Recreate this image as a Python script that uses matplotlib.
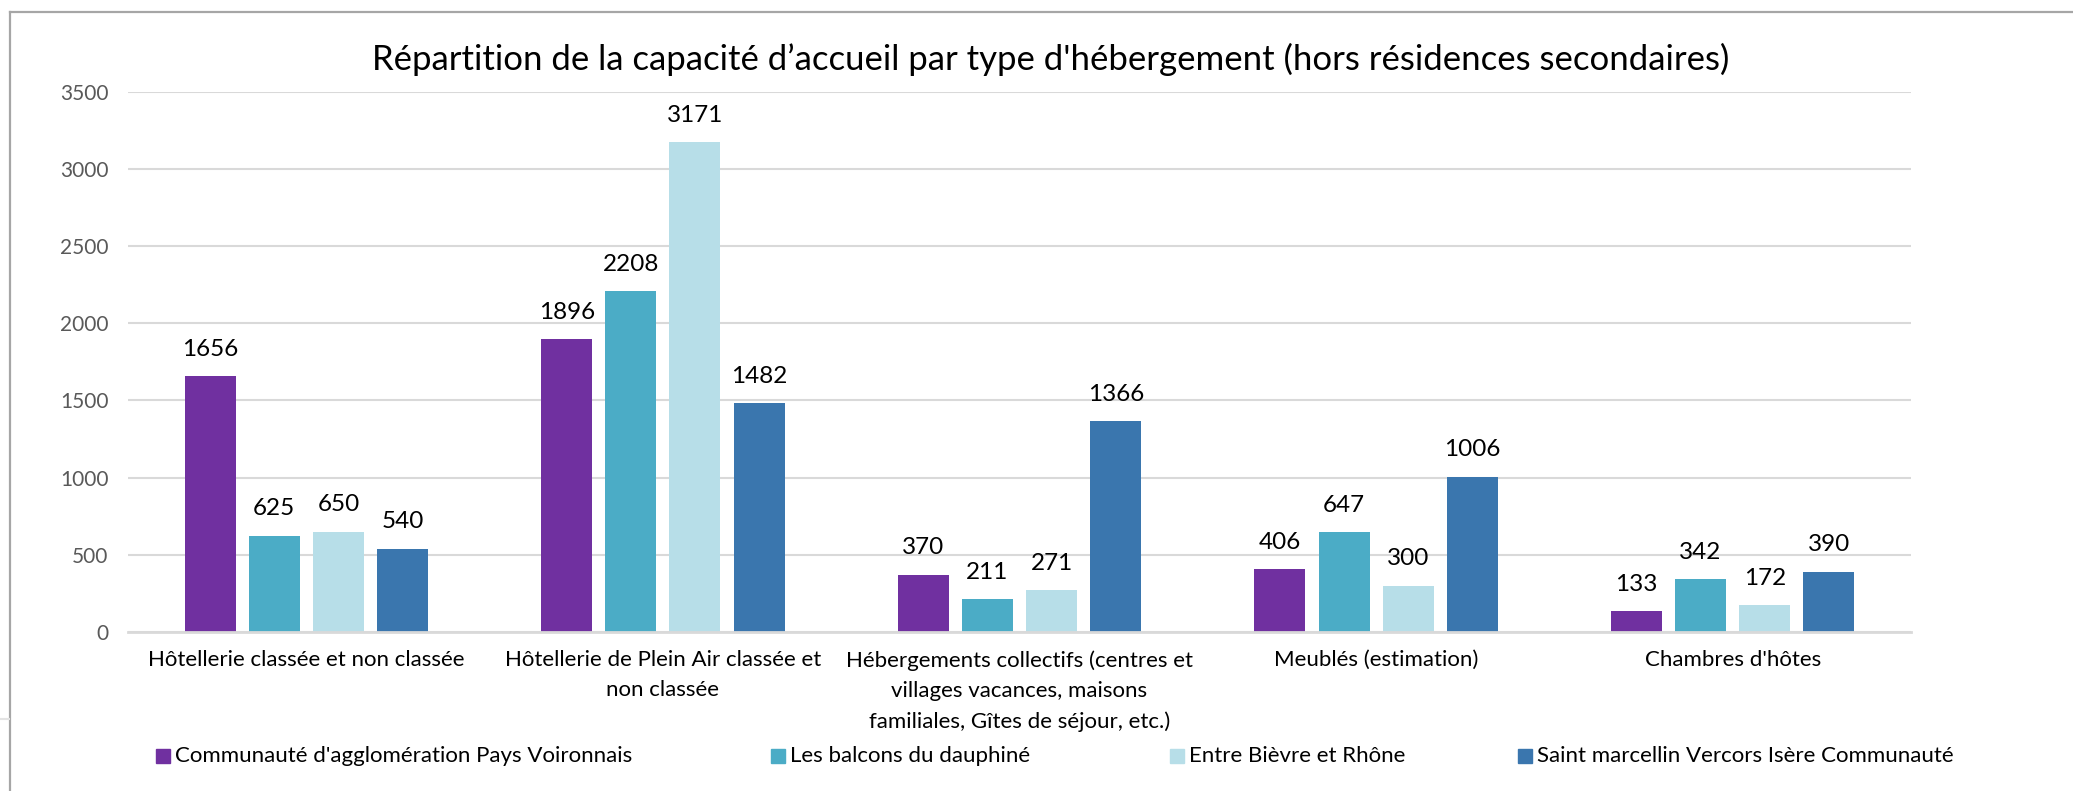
import matplotlib
matplotlib.use("Agg")
import matplotlib.pyplot as plt
import numpy as np
from matplotlib.patches import Rectangle
from matplotlib.lines import Line2D

plt.rcParams['font.family'] = ['Lato', 'DejaVu Sans']

title = "Répartition de la capacité d’accueil par type d'hébergement (hors résidences secondaires)"
categories = [
    "Hôtellerie classée et non classée",
    "Hôtellerie de Plein Air classée et\nnon classée",
    "Hébergements collectifs (centres et\nvillages vacances, maisons\nfamiliales, Gîtes de séjour, etc.)",
    "Meublés (estimation)",
    "Chambres d'hôtes",
]
series_names = [
    "Communauté d'agglomération Pays Voironnais",
    "Les balcons du dauphiné",
    "Entre Bièvre et Rhône",
    "Saint marcellin Vercors Isère Communauté",
]
voironnais = [1656, 1896, 370, 406, 133]
balcons = [625, 2208, 211, 647, 342]
bievre = [650, 3171, 271, 300, 172]
saint_marcellin = [540, 1482, 1366, 1006, 390]
yticks = [0, 500, 1000, 1500, 2000, 2500, 3000, 3500]

colors = ["#7030A0", "#4BACC6", "#B7DEE8", "#3A76AE"]
series = [voironnais, balcons, bievre, saint_marcellin]

W, H = 2073, 791
fig = plt.figure(figsize=(W / 100, H / 100), dpi=100)
ax = fig.add_axes([128 / W, 1 - 632 / H, (1911 - 128) / W, (632 - 91.7) / H])

x = np.arange(len(categories))
pitch = 0.180
width = 0.143
for i, (vals, col) in enumerate(zip(series, colors)):
    xs = x + (i - 1.5) * pitch
    ax.bar(xs, vals, width=width, color=col, zorder=3)
    for xx, v in zip(xs, vals):
        ax.annotate(str(v), (xx, v), xytext=(0, 19.5), textcoords='offset points',
                    ha='center', va='center', fontsize=17.5, color='#000000')

ax.set_xlim(-0.5, len(categories) - 0.5)
ax.set_ylim(0, 3500)
ax.set_yticks(yticks)
ax.set_yticklabels([str(t) for t in yticks])
ax.set_xticks(x)
ax.set_xticklabels(categories, linespacing=1.65)
ax.tick_params(axis='y', length=0, pad=14, labelsize=15, labelcolor='#595959')
ax.tick_params(axis='x', length=0, pad=13, labelsize=16, labelcolor='#000000')
ax.grid(axis='y', color='#D9D9D9', linewidth=1.5, zorder=0)
for s in ['top', 'right', 'left']:
    ax.spines[s].set_visible(False)
ax.spines['bottom'].set_color('#D9D9D9')
ax.spines['bottom'].set_linewidth(2)
ax.spines['bottom'].set_zorder(4)

fig.text(1051 / W, 1 - 59 / H, title, ha='center', va='center', fontsize=25, color='#000000')

# legend entries placed manually
leg_sq_x = [156, 771, 1170, 1518]
leg_y = 756
for name, col, sx in zip(series_names, colors, leg_sq_x):
    fig.patches.append(Rectangle((sx / W, 1 - 763 / H), 14 / W, 14 / H,
                                 transform=fig.transFigure, color=col, figure=fig))
    fig.text((sx + 19) / W, 1 - leg_y / H, name, ha='left', va='center',
             fontsize=16, color='#000000')

# screenshot frame
fig.add_artist(Line2D([10 / W, 10 / W], [0, 1 - 12 / H], transform=fig.transFigure,
                      color='#A6A6A6', linewidth=1.6))
fig.add_artist(Line2D([10 / W, 1], [1 - 12 / H, 1 - 12 / H], transform=fig.transFigure,
                      color='#A6A6A6', linewidth=1.6))
fig.add_artist(Line2D([0, 9 / W], [1 - 719 / H, 1 - 719 / H], transform=fig.transFigure,
                      color='#E3E3E3', linewidth=1.5))

fig.savefig("out.png", dpi=100)
